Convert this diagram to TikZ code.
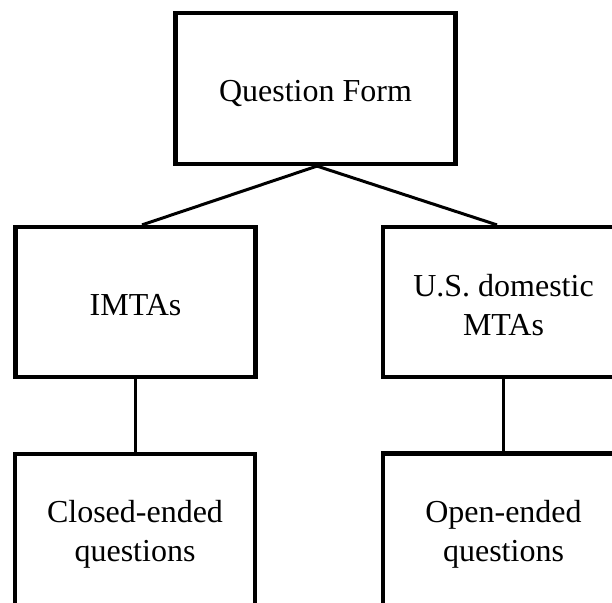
\documentclass[tikz,border=0pt]{standalone}
\usepackage{fontspec}
\setmainfont{Liberation Serif}
\begin{document}
\begin{tikzpicture}[x=1pt,y=-1pt,
  box/.style={draw=black, line width=4.2pt, fill=white, minimum width=240pt,
    minimum height=150pt, align=center, inner sep=0pt,
    font=\fontsize{32}{39}\selectfont},
  oneline/.style={text height=28pt, text depth=2pt},
  twoline/.style={text height=68pt, text depth=0.8pt},
  link/.style={draw=black, line width=3pt}]
\useasboundingbox (0,0) rectangle (612,602);
\clip (0,0) rectangle (612,602);
\fill[white] (0,0) rectangle (612,602);

% top level
\node[box, oneline, minimum width=280pt, minimum height=151pt] (form) at (315.5,88.5) {Question Form};

% second level
\node[box, oneline] (imtas) at (135.5,302) {IMTAs};
\node[box, twoline, minimum width=241pt] (us) at (503.5,302) {U.S. domestic\\MTAs};

% third level (running off the bottom edge)
\node[box, twoline, minimum height=160pt, text height=56pt] (closed) at (135,534) {Closed-ended\\questions};
\node[box, twoline, minimum height=160pt, text height=57pt, minimum width=241pt] (open) at (503.5,533.5) {Open-ended\\questions};

% connectors
\draw[link] ([xshift=1.5pt]form.south) -- ([xshift=6.5pt]imtas.north);
\draw[link] ([xshift=1.5pt]form.south) -- ([xshift=-6.5pt]us.north);
\draw[link] (imtas.south) -- (imtas.south |- closed.north);
\draw[link] (us.south) -- (open.north);
\end{tikzpicture}
\end{document}
